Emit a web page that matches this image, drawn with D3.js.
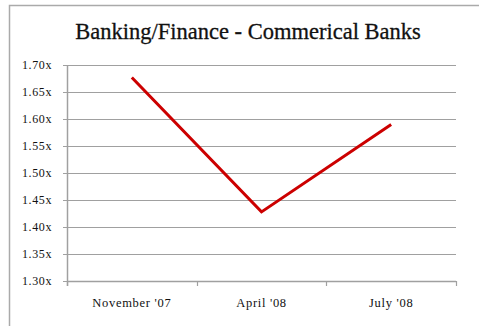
<!DOCTYPE html>
<html lang="en">
<head>
<meta charset="UTF-8">
<script src="https://d3js.org/d3.v7.min.js"></script>
<style>
  body { margin: 0; background: #fff; }
  text { font-family: "Liberation Serif", "DejaVu Serif", serif; fill: #111; }
</style>
</head>
<body>
<script>
// chart data
var categories = ["November '07", "April '08", "July '08"];
var values = [1.677, 1.428, 1.59];
var yTicks = [1.30, 1.35, 1.40, 1.45, 1.50, 1.55, 1.60, 1.65, 1.70];

var W = 479, H = 326;
var margin = {top: 65, right: 23, bottom: 45, left: 67};
var width = W - margin.left - margin.right,
    height = H - margin.top - margin.bottom;

var svg = d3.select("body").append("svg")
    .attr("width", W)
    .attr("height", H);

// outer frame (runs off the right and bottom edges)
svg.append("rect")
    .attr("x", 9.5).attr("y", 5.5)
    .attr("width", W + 20).attr("height", H + 20)
    .attr("fill", "none")
    .attr("stroke", "#aaa")
    .attr("stroke-width", 1.5);

svg.append("text")
    .attr("x", 248).attr("y", 39)
    .attr("text-anchor", "middle")
    .style("font-size", "22.5px")
    .style("stroke", "#111").style("stroke-width", 0.3)
    .text("Banking/Finance - Commerical Banks");

var g = svg.append("g")
    .attr("transform", "translate(" + margin.left + "," + margin.top + ")");

var x = d3.scaleBand().domain(categories).range([0, width]);
var y = d3.scaleLinear().domain([1.30, 1.70]).range([height, 0]);

// gridlines
g.selectAll(".grid")
    .data(yTicks.slice(1))
  .enter().append("line")
    .attr("x1", 0).attr("x2", width)
    .attr("y1", function(d) { return Math.round(y(d)) + 0.5; })
    .attr("y2", function(d) { return Math.round(y(d)) + 0.5; })
    .attr("stroke", "#a0a0a0")
    .attr("stroke-width", 1.2);

// y axis
var yAxis = g.append("g")
    .call(d3.axisLeft(y).tickValues(yTicks).tickSize(4).tickPadding(11)
      .tickFormat(function(d) { return d3.format(".2f")(d) + "x"; }));
yAxis.select(".domain").attr("stroke", "#a0a0a0").attr("stroke-width", 1.5)
    .attr("d", "M0.5," + (height + 5) + "V0");
yAxis.selectAll(".tick line").attr("stroke", "#a0a0a0");
yAxis.selectAll("text").style("font-size", "12px").style("letter-spacing", "0.6px")
    .style("font-family", "'Liberation Serif', serif").attr("fill", "#111");

// x axis
var xAxis = g.append("g")
    .attr("transform", "translate(0," + height + ")")
    .call(d3.axisBottom(x).tickSize(0).tickPadding(17));
xAxis.select(".domain").attr("stroke", "#a0a0a0").attr("stroke-width", 1.5)
    .attr("d", "M0,0.5H" + width);
xAxis.selectAll("text").style("font-size", "12.5px").style("letter-spacing", "0.7px")
    .style("font-family", "'Liberation Serif', serif").attr("fill", "#111");

// category boundary ticks
var bounds = categories.map(function(c) { return x(c); }).concat([width]);
g.selectAll(".xtick")
    .data(bounds)
  .enter().append("line")
    .attr("x1", function(d) { return Math.round(d) + 0.5; })
    .attr("x2", function(d) { return Math.round(d) + 0.5; })
    .attr("y1", height).attr("y2", height + 5)
    .attr("stroke", "#a0a0a0")
    .attr("stroke-width", 1.2);

// line
var line = d3.line()
    .x(function(d, i) { return x(categories[i]) + x.bandwidth() / 2; })
    .y(function(d) { return y(d); });

g.append("path")
    .datum(values)
    .attr("d", line)
    .attr("fill", "none")
    .attr("stroke", "#cc0000")
    .attr("stroke-width", 3);
</script>
</body>
</html>
